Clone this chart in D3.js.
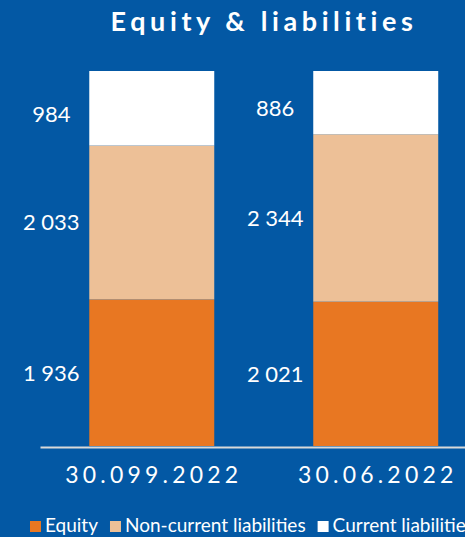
<!DOCTYPE html>
<html>
<head>
<meta charset="utf-8">
<script src="https://cdn.jsdelivr.net/npm/d3@7"></script>
<style>
  html, body { margin: 0; padding: 0; background: #0358a4; overflow: hidden; }
  svg { display: block; font-family: Lato, "Open Sans", sans-serif; }
</style>
</head>
<body>
<div id="root"></div>
<script>
// data
const periods = ["30.099.2022", "30.06.2022"];
const seriesKeys = ["equity", "nonCurrent", "current"];
const seriesNames = ["Equity", "Non-current liabilities", "Current liabilities"];
const equity = [1936, 2021];
const nonCurrent = [2033, 2344];
const current = [984, 886];
const title = "Equity & liabilities";

// dimensions
const width = 465;
const height = 537;

const colors = d3.scaleOrdinal()
    .domain(seriesKeys)
    .range(["#e87722", "#edc097", "#ffffff"]);

const rows = periods.map((p, i) => ({
    period: p,
    equity: equity[i],
    nonCurrent: nonCurrent[i],
    current: current[i]
}));

const stacked = d3.stack()
    .keys(seriesKeys)
    .offset(d3.stackOffsetExpand)(rows);

const svg = d3.select("#root")
    .append("svg")
    .attr("width", width)
    .attr("height", height);

const xScale = d3.scaleBand()
    .domain(periods)
    .range([40, 487.5])
    .paddingInner(0.442)
    .paddingOuter(0.22);

const yScale = d3.scaleLinear()
    .domain([0, 1])
    .range([446, 71]);

// title
svg.append("text")
    .attr("x", 264)
    .attr("y", 31)
    .attr("text-anchor", "middle")
    .attr("fill", "#fff")
    .attr("font-size", 27)
    .attr("font-weight", "bold")
    .style("letter-spacing", "4.6px")
    .text(title);

// bars
const layers = svg.append("g")
    .selectAll("g")
    .data(stacked)
    .enter().append("g")
    .attr("fill", d => colors(d.key));

layers.selectAll("rect")
    .data(d => d)
    .enter().append("rect")
    .attr("x", d => xScale(d.data.period))
    .attr("y", d => yScale(d[1]))
    .attr("width", xScale.bandwidth())
    .attr("height", d => yScale(d[0]) - yScale(d[1]));

// value labels, left of each bar
const fmt = v => d3.format(",")(v).replace(/,/g, " ");
layers.selectAll("text")
    .data(d => d.map(s => ({s: s, key: d.key})))
    .enter().append("text")
    .attr("x", d => xScale(d.s.data.period) - 38)
    .attr("y", d => (yScale(d.s[0]) + yScale(d.s[1])) / 2)
    .attr("dy", d => d.key === "current" ? "0.62em" : "0.36em")
    .attr("text-anchor", "middle")
    .attr("fill", "#fff")
    .attr("font-size", 22)
    .text(d => fmt(d.s.data[d.key]));

// axis
const axis = svg.append("g")
    .attr("transform", `translate(0, ${yScale(0) + 1})`)
    .call(d3.axisBottom(xScale).tickSize(0).tickPadding(20));

axis.select(".domain")
    .attr("stroke", "#d9d9d9")
    .attr("stroke-width", 2);

axis.selectAll("text")
    .attr("fill", "#fff")
    .attr("font-size", 23)
    .attr("font-family", "Lato, sans-serif")
    .style("letter-spacing", "4.2px")
    .attr("dx", "2px");

// legend
const legend = svg.append("g")
    .attr("transform", "translate(30, 532)");

let lx = 0;
seriesKeys.forEach((k, i) => {
    const item = legend.append("g").attr("transform", `translate(${lx}, 0)`);
    item.append("rect")
        .attr("x", 0)
        .attr("y", -11)
        .attr("width", 11)
        .attr("height", 11)
        .attr("fill", colors(k));
    const t = item.append("text")
        .attr("x", 15)
        .attr("fill", "#fff")
        .attr("font-size", 19)
        .text(seriesNames[i]);
    lx += 15 + t.node().getComputedTextLength() + 12;
});
</script>
</body>
</html>
